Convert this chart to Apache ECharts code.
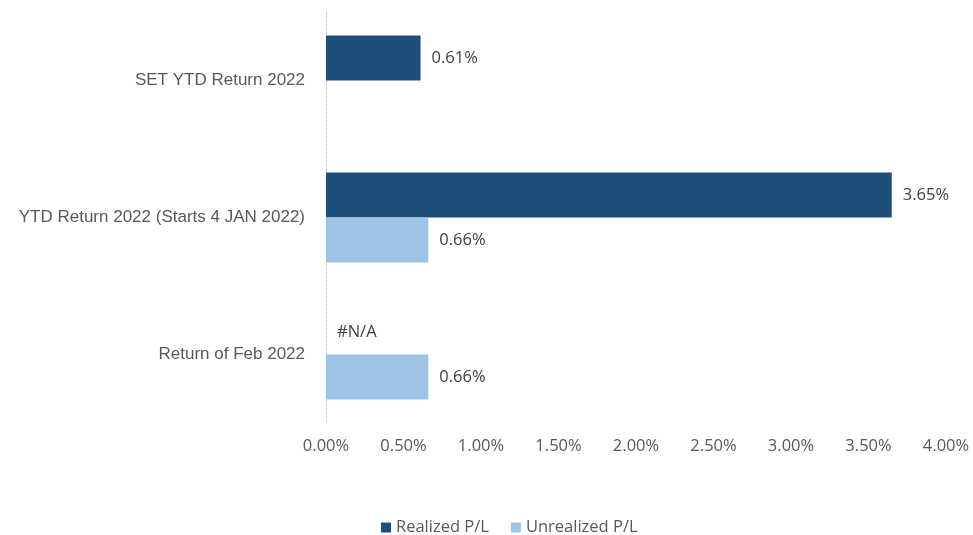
<!DOCTYPE html>
<html>
<head>
<meta charset="utf-8">
<script src="https://cdn.jsdelivr.net/npm/echarts@6/dist/echarts.min.js"></script>
<style>
  html, body { margin: 0; padding: 0; background: #fff; }
  #chart { width: 973px; height: 535px; }
</style>
</head>
<body>
<div id="chart"></div>
<script>
var categories = ['SET YTD Return 2022', 'YTD Return 2022 (Starts 4 JAN 2022)', 'Return of Feb 2022'];
var realized = [0.61, 3.65, 0];
var realizedText = ['0.61%', '3.65%', '#N/A'];
var unrealized = ['-', 0.66, 0.66];
var xTicks = { min: 0, max: 4, interval: 0.5 };

var COLORS = { realized: '#1F4E79', unrealized: '#9DC3E6', text: '#595959' };

var myChart = echarts.init(document.getElementById('chart'));

var labelFont = {
	color: '#404040',
	fontSize: 16.5,
	fontFamily: 'Open Sans'
};

var option = {
	grid: {
		left: 326,
		right: 27,
		top: 12,
		bottom: 112
	},
	legend: {
		left: 376,
		top: 514,
		icon: 'rect',
		itemWidth: 10,
		itemHeight: 10,
		itemGap: 22,
		textStyle: { color: COLORS.text, fontSize: 16.5, fontFamily: 'Open Sans' },
		data: ['Realized P/L', 'Unrealized P/L']
	},
	xAxis: {
		type: 'value',
		min: xTicks.min,
		max: xTicks.max,
		interval: xTicks.interval,
		axisLine: { show: false },
		axisTick: { show: false },
		splitLine: { show: false },
		axisLabel: {
			margin: 15,
			color: COLORS.text,
			fontSize: 16.5,
			fontFamily: 'Open Sans',
			formatter: function (v) { return v.toFixed(2) + '%'; }
		}
	},
	yAxis: {
		type: 'category',
		inverse: true,
		data: categories,
		axisTick: { show: false },
		axisLine: { lineStyle: { color: '#C8C8C8', type: [2, 2], width: 1 } },
		axisLabel: {
			margin: 21,
			color: COLORS.text,
			fontSize: 17,
			fontFamily: 'Liberation Sans'
		}
	},
	series: [
		{
			name: 'Realized P/L',
			type: 'bar',
			barWidth: 45,
			barGap: '0%',
			itemStyle: { color: COLORS.realized },
			label: Object.assign({
				show: true,
				position: 'right',
				distance: 11,
				formatter: function (p) { return realizedText[p.dataIndex]; }
			}, labelFont),
			data: realized
		},
		{
			name: 'Unrealized P/L',
			type: 'bar',
			barWidth: 45,
			barGap: '0%',
			itemStyle: { color: COLORS.unrealized },
			label: Object.assign({
				show: true,
				position: 'right',
				distance: 11,
				formatter: function (p) { return p.value.toFixed(2) + '%'; }
			}, labelFont),
			data: unrealized
		}
	]
};

myChart.setOption(option);
</script>
</body>
</html>
